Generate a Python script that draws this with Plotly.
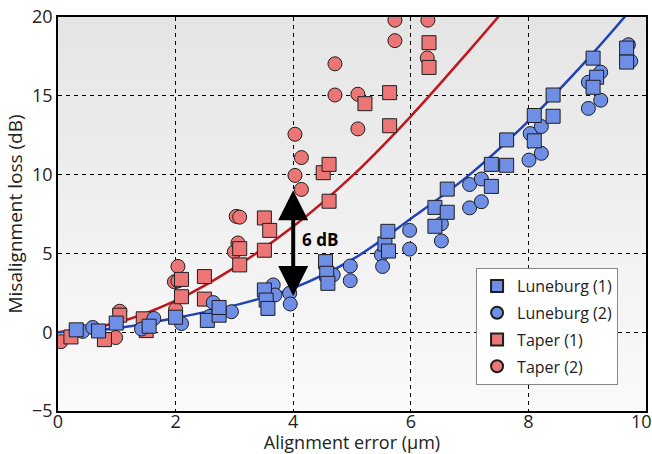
import plotly.graph_objects as go

# ---------------- data ----------------
lun1_x = [0.31, 0.69, 0.99, 1.55, 2.0, 2.54, 2.74, 2.74, 3.51, 3.54, 3.57,
          4.55, 4.57, 4.59, 5.56, 5.61, 5.62, 6.41, 6.41, 6.62, 6.62,
          7.37, 7.37, 7.63, 7.63, 8.1, 8.1, 8.42, 8.42, 9.1, 9.16, 9.1, 9.67, 9.67]
lun1_y = [0.15, 0.08, 0.58, 0.38, 0.95, 0.75, 1.08, 1.57, 2.68, 2.04, 1.51,
          4.48, 3.74, 3.1, 5.6, 6.4, 5.15, 7.92, 6.72, 9.08, 7.61,
          10.65, 9.25, 10.59, 12.2, 13.75, 12.14, 15.05, 13.7, 17.39, 16.18, 15.54, 18.03, 17.14]

lun2_x = [0.42, 0.59, 1.42, 1.63, 2.1, 2.58, 2.64, 2.95, 3.66, 3.69, 3.94, 3.95,
          4.68, 4.97, 4.97, 5.5, 5.52, 5.98, 5.98, 6.52, 6.52, 7.0, 7.2, 7.0, 7.2,
          8.03, 8.22, 8.22, 8.01, 9.02, 9.23, 9.23, 9.02, 9.7, 9.74]
lun2_y = [0.05, 0.3, 0.2, 0.87, 0.55, 1.0, 1.88, 1.3, 3.0, 2.36, 2.47, 1.79,
          3.64, 4.2, 3.27, 4.91, 4.17, 6.46, 5.27, 6.88, 5.79, 9.37, 9.72, 7.89, 8.28,
          12.6, 13.05, 11.35, 10.92, 15.86, 16.5, 14.72, 14.2, 18.24, 17.2]

tap1_x = [0.22, 0.79, 1.05, 1.45, 1.5, 2.1, 2.1, 2.49, 2.49, 3.09, 3.09,
          3.51, 3.6, 3.51, 4.61, 4.51, 4.61, 5.22, 5.64, 5.64, 6.31, 6.31]
tap1_y = [-0.3, -0.47, 1.08, 0.85, 0.1, 3.35, 2.25, 3.53, 2.1, 5.3, 4.27,
          7.25, 6.46, 5.2, 8.31, 10.12, 10.65, 14.5, 15.2, 13.1, 18.37, 16.8]

tap2_x = [0.05, 0.98, 1.05, 2.0, 1.98, 2.04, 2.04, 3.0, 3.06, 3.03, 3.09,
          4.03, 4.14, 4.03, 4.14, 4.71, 4.71, 5.1, 5.1, 5.73, 5.73, 6.29, 6.28]
tap2_y = [-0.6, -0.34, 1.33, 1.45, 3.2, 3.25, 4.17, 5.1, 5.66, 7.35, 7.3,
          12.56, 11.08, 9.95, 9.06, 17.03, 15.05, 15.1, 12.9, 19.8, 18.5, 19.8, 17.4]

# fitted curves
fit_lun_x = [0, 1, 2, 3, 4, 5, 6, 7, 8, 9, 9.75]
fit_lun_y = [0, 0.25, 0.9, 1.7, 2.8, 4.6, 7.2, 10.0, 13.4, 17.3, 20.5]
fit_tap_x = [0, 1, 2, 3, 4, 5, 6, 7, 7.6]
fit_tap_y = [0, 0.6, 2.0, 4.1, 6.7, 9.9, 13.7, 17.9, 20.5]

# annotation values
gap_x = 4.0
gap_lo = 2.2
gap_hi = 9.0
gap_label = "6 dB"

x_ticks = [0, 2, 4, 6, 8, 10]
x_tick_text = ["0", "2", "4", "6", "8", "10\u00a0\u00a0"]
y_ticks = [-5, 0, 5, 10, 15, 20]

# ---------------- styling ----------------
BLUE = "#6f8fe6"
RED = "#ec7676"
BLUE_LINE = "#2243b8"
RED_LINE = "#c0161c"
EDGE = "#1e1e1e"
MS = 14

fig = go.Figure()

fig.add_trace(go.Scatter(x=fit_tap_x, y=fit_tap_y, mode="lines", line=dict(color=RED_LINE, width=2.5, shape="spline"),
                         showlegend=False, hoverinfo="skip"))
fig.add_trace(go.Scatter(x=fit_lun_x, y=fit_lun_y, mode="lines", line=dict(color=BLUE_LINE, width=2.5, shape="spline"),
                         showlegend=False, hoverinfo="skip"))

fig.add_trace(go.Scatter(x=tap2_x, y=tap2_y, mode="markers", name="Taper (2)", legendrank=4, legendgroup="t2",
                         marker=dict(symbol="circle", size=MS, color=RED, line=dict(color=EDGE, width=1))))
fig.add_trace(go.Scatter(x=tap1_x, y=tap1_y, mode="markers", name="Taper (1)", legendrank=3, legendgroup="t1",
                         marker=dict(symbol="square", size=MS, color=RED, line=dict(color=EDGE, width=1))))
fig.add_trace(go.Scatter(x=lun2_x, y=lun2_y, mode="markers", name="Luneburg (2)", legendrank=2, legendgroup="l2",
                         marker=dict(symbol="circle", size=MS, color=BLUE, line=dict(color=EDGE, width=1))))
fig.add_trace(go.Scatter(x=lun1_x, y=lun1_y, mode="markers", name="Luneburg (1)", legendrank=1, legendgroup="l1",
                         marker=dict(symbol="square", size=MS, color=BLUE, line=dict(color=EDGE, width=1))))

# gradient plot background
shapes = []
n = 24
for i in range(n):
    t = i / (n - 1)
    g = int(round(229 + (250 - 229) * (1 - t)))
    shapes.append(dict(type="rect", xref="x domain", yref="y domain",
                       x0=0, x1=1, y0=i / n, y1=(i + 1) / n,
                       fillcolor=f"rgb({g},{g},{g})", line=dict(width=0), layer="below"))

fig.add_annotation(x=gap_x, y=gap_hi, ax=gap_x, ay=gap_lo, xref="x", yref="y", axref="x", ayref="y",
                   text="", showarrow=True, arrowhead=2, arrowside="end+start", arrowsize=1.5,
                   arrowwidth=4, arrowcolor="black", standoff=0, startstandoff=0)
fig.add_annotation(x=gap_x + 0.12, y=(gap_lo + gap_hi) / 2 + 0.3, xref="x", yref="y", text="<b>" + gap_label + "</b>",
                   showarrow=False, xanchor="left", yanchor="middle",
                   font=dict(size=17, color="black", family="Open Sans"))

fig.update_layout(
    width=652, height=454, autosize=False,
    margin=dict(l=58, r=6, t=17, b=43),
    paper_bgcolor="white", plot_bgcolor="#f0f0f0",
    font=dict(family="Open Sans", size=18, color="#222"),
    shapes=shapes,
    legend=dict(x=0.711, y=0.363, xanchor="left", yanchor="top", bgcolor="white",
                bordercolor="#888", borderwidth=1, font=dict(size=16, color="#222"),
                itemsizing="constant", tracegroupgap=3),
    xaxis=dict(range=[0, 10], tickvals=x_ticks, ticktext=x_tick_text, showline=True, mirror=True,
               linecolor="black", linewidth=1.5, automargin=False,
               showgrid=True, gridcolor="black", gridwidth=1.1, griddash="4px,4px", zeroline=False,
               ticks="", ticklabeloverflow="allow", ticklabelstandoff=-6,
               title=dict(text="Alignment error (μm)", standoff=3, font=dict(size=18))),
    yaxis=dict(range=[-5, 20], tickvals=y_ticks, showline=True, mirror=True, linecolor="black", linewidth=1.5,
               automargin=False,
               showgrid=True, gridcolor="black", gridwidth=1.1, griddash="4px,4px", zeroline=False,
               ticks="", title=dict(text="Misalignment loss (dB)", standoff=4, font=dict(size=19))),
)

fig.write_html("out.html", config={"displayModeBar": False},
               post_script="document.body.style.margin='0';document.body.style.overflow='hidden';")
